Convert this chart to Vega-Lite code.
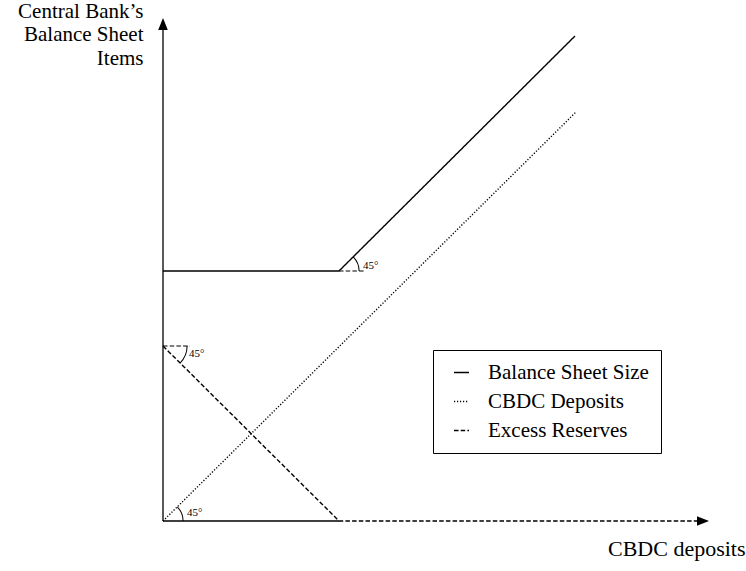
{
  "$schema": "https://vega.github.io/schema/vega-lite/v6.json",
  "width": 560,
  "height": 510,
  "autosize": {"type": "none"},
  "padding": {"left": 163, "top": 11, "right": 23, "bottom": 50},
  "background": "white",
  "config": {
    "view": {"stroke": null},
    "font": "Liberation Serif",
    "legend": {
      "orient": "none",
      "legendX": 270,
      "legendY": 339,
      "strokeColor": "black",
      "fillColor": "white",
      "padding": 12,
      "symbolType": "stroke",
      "symbolSize": 225,
      "symbolStrokeWidth": 1.5,
      "symbolStrokeColor": "black",
      "symbolOffset": 6,
      "labelFont": "Liberation Serif",
      "labelFontSize": 21,
      "labelColor": "black",
      "labelOffset": 16,
      "labelLimit": 400,
      "rowPadding": 7
    }
  },
  "datasets": {
    "axes": [
      {"x": 0, "y": 0, "x2": 0, "y2": 491},
      {"x": 0, "y": 0, "x2": 176, "y2": 0}
    ],
    "lines": [
      {"series": "Balance Sheet Size", "i": 0, "x": 0, "y": 250},
      {"series": "Balance Sheet Size", "i": 1, "x": 176, "y": 250},
      {"series": "Balance Sheet Size", "i": 2, "x": 412, "y": 485},
      {"series": "CBDC Deposits", "i": 0, "x": 0, "y": 0},
      {"series": "CBDC Deposits", "i": 1, "x": 413, "y": 409},
      {"series": "Excess Reserves", "i": 0, "x": 0, "y": 175},
      {"series": "Excess Reserves", "i": 1, "x": 176, "y": 0},
      {"series": "Excess Reserves", "i": 2, "x": 534, "y": 0}
    ],
    "refs": [
      {"x": 176, "y": 250, "x2": 202, "y2": 250},
      {"x": 0, "y": 175, "x2": 27, "y2": 175}
    ],
    "labels": [
      {"x": 200, "y": 255, "label": "45°"},
      {"x": 26, "y": 167, "label": "45°"},
      {"x": 24, "y": 8, "label": "45°"}
    ]
  },
  "layer": [
    {
      "data": {"name": "axes"},
      "mark": {"type": "rule", "color": "black", "strokeWidth": 1.3},
      "encoding": {
        "x": {
          "field": "x", "type": "quantitative",
          "scale": {"domain": [0, 560], "nice": false},
          "axis": {
            "title": "CBDC deposits", "domain": false, "ticks": false, "labels": false, "grid": false,
            "titleX": 582, "titleY": 34, "titleAlign": "right", "titleAnchor": null,
            "titleBaseline": "alphabetic", "titleFontSize": 22, "titleFontWeight": "normal",
            "titleFont": "Liberation Serif", "titleColor": "black"
          }
        },
        "y": {
          "field": "y", "type": "quantitative",
          "scale": {"domain": [0, 510], "nice": false},
          "axis": {
            "title": ["Central Bank’s", "Balance Sheet", "Items"],
            "domain": false, "ticks": false, "labels": false, "grid": false,
            "titleAngle": 0, "titleAlign": "right", "titleBaseline": "alphabetic",
            "titleX": -20, "titleY": 6, "titleLineHeight": 23.5, "titleAnchor": null,
            "titleFontSize": 21, "titleFontWeight": "normal", "titleFont": "Liberation Serif", "titleColor": "black"
          }
        },
        "x2": {"field": "x2"},
        "y2": {"field": "y2"}
      }
    },
    {
      "data": {"values": [{"x": 0, "y": 497}]},
      "mark": {"type": "point", "filled": true, "color": "black", "opacity": 1, "size": 144, "shape": "M0,-1L-0.8,1L0.8,1Z"},
      "encoding": {
        "x": {"field": "x", "type": "quantitative"},
        "y": {"field": "y", "type": "quantitative"}
      }
    },
    {
      "data": {"values": [{"x": 540, "y": 0}]},
      "mark": {"type": "point", "filled": true, "color": "black", "opacity": 1, "size": 144, "shape": "M1,0L-1,-0.8L-1,0.8Z"},
      "encoding": {
        "x": {"field": "x", "type": "quantitative"},
        "y": {"field": "y", "type": "quantitative"}
      }
    },
    {
      "data": {"name": "lines"},
      "mark": {"type": "line", "color": "black", "strokeWidth": 1.4},
      "encoding": {
        "x": {"field": "x", "type": "quantitative"},
        "y": {"field": "y", "type": "quantitative"},
        "order": {"field": "i", "type": "quantitative"},
        "strokeDash": {
          "field": "series", "type": "nominal",
          "scale": {
            "domain": ["Balance Sheet Size", "CBDC Deposits", "Excess Reserves"],
            "range": [[1, 0], [1.2, 1.8], [4.5, 2.2]]
          },
          "legend": {"title": null}
        }
      }
    },
    {
      "data": {"name": "refs"},
      "mark": {"type": "rule", "color": "black", "strokeWidth": 1.2, "strokeDash": [4.5, 2.2]},
      "encoding": {
        "x": {"field": "x", "type": "quantitative"},
        "y": {"field": "y", "type": "quantitative"},
        "x2": {"field": "x2"},
        "y2": {"field": "y2"}
      }
    },
    {
      "data": {"values": [{"x": 176, "y": 250}, {"x": 0, "y": 0}]},
      "mark": {"type": "arc", "color": "black", "radius": 20.6, "radius2": 19.6, "theta": 0.785, "theta2": 1.571},
      "encoding": {
        "x": {"field": "x", "type": "quantitative"},
        "y": {"field": "y", "type": "quantitative"}
      }
    },
    {
      "data": {"values": [{"x": 0, "y": 175}]},
      "mark": {"type": "arc", "color": "black", "radius": 24.6, "radius2": 23.6, "theta": 1.571, "theta2": 2.356},
      "encoding": {
        "x": {"field": "x", "type": "quantitative"},
        "y": {"field": "y", "type": "quantitative"}
      }
    },
    {
      "data": {"name": "labels"},
      "mark": {"type": "text", "align": "left", "baseline": "middle", "fontSize": 11, "color": "black", "font": "Liberation Serif"},
      "encoding": {
        "x": {"field": "x", "type": "quantitative"},
        "y": {"field": "y", "type": "quantitative"},
        "text": {"field": "label"}
      }
    }
  ]
}
